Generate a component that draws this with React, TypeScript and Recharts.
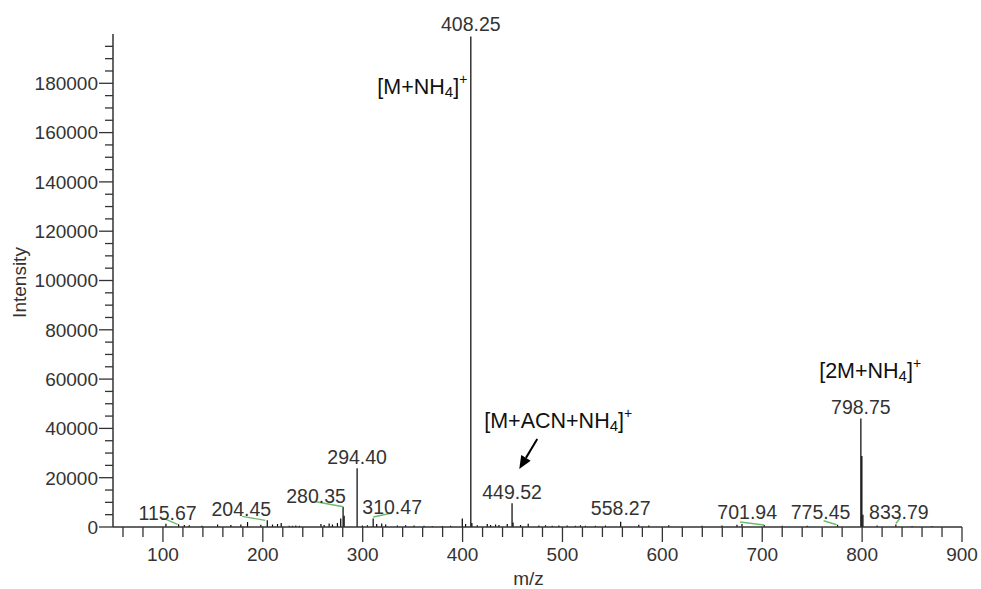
import { ScatterChart, Scatter, XAxis, YAxis, ErrorBar } from 'recharts'

// labelled peaks (m/z, intensity)
const labelMz = [115.67, 204.45, 280.35, 294.4, 310.47, 408.25, 449.52, 558.27, 701.94, 775.45, 798.75, 833.79]
const labelIntensity = [1100, 2700, 8200, 23800, 3400, 199000, 9600, 2100, 800, 900, 44000, 1000]

// unlabelled small peaks along the baseline
const minorMz = [
    103, 121.4, 126.4, 139, 154.7, 168, 178, 184.7, 198, 209.7, 214.7, 218.4, 226.4, 229.7, 233, 236.7,
    258.2, 261.4, 266.4, 269.7, 274.7, 278, 281.4, 299.7, 304.7, 314, 319, 323, 334.7, 343, 351.4, 361.4,
    369.7, 379.7, 388, 399.7, 403, 409.3, 414.7, 424.7, 428, 433, 436.4, 444.7, 450.5, 458, 465.7, 476.4,
    483, 489.7, 496.4, 504.7, 513, 518, 523, 533, 543, 576.4, 586.4, 606.4, 639.7, 659.7, 674.7, 679.7,
    720, 745, 799.75, 800.8, 815, 850, 870,
]
const minorIntensity = [
    1300, 800, 700, 500, 1000, 800, 1000, 2000, 900, 1000, 1200, 1600, 500, 500, 600, 500,
    1200, 800, 1400, 1000, 1600, 3400, 4600, 600, 700, 1200, 1400, 1000, 600, 700, 600, 500,
    400, 400, 500, 3400, 1200, 1600, 700, 1200, 800, 1000, 800, 1200, 1800, 800, 1300, 600,
    700, 500, 600, 600, 500, 700, 500, 500, 600, 900, 600, 700, 500, 600, 900, 1200,
    500, 500, 28800, 5000, 600, 400, 400,
]

const xTicks = [
    60, 80, 100, 120, 140, 160, 180, 200, 220, 240, 260, 280, 300, 320, 340, 360, 380, 400, 420, 440,
    460, 480, 500, 520, 540, 560, 580, 600, 620, 640, 660, 680, 700, 720, 740, 760, 780, 800, 820, 840,
    860, 880, 900,
]
const yTicks = [
    0, 5000, 10000, 15000, 20000, 25000, 30000, 35000, 40000, 45000, 50000, 55000, 60000, 65000, 70000,
    75000, 80000, 85000, 90000, 95000, 100000, 105000, 110000, 115000, 120000, 125000, 130000, 135000,
    140000, 145000, 150000, 155000, 160000, 165000, 170000, 175000, 180000, 185000, 190000, 195000,
]

// ion annotations
const ionMz = [408.25, 449.52, 798.75]
const ionPre = ['[M+NH', '[M+ACN+NH', '[2M+NH']
const ionSub = ['4', '4', '4']
const ionPost = [']', ']', ']']
const ionSup = ['+', '+', '+']

// label placement relative to the peak top (pixels)
const labelLayout: { [key: string]: { dx: number; dy: number; leader?: number[] } } = {
    '115.67': { dx: -11, dy: -11.5, leader: [-16, -6.5, -1, 0] },
    '204.45': { dx: -26, dy: -11, leader: [-25, -4, -2, 0] },
    '280.35': { dx: -27, dy: -11, leader: [-27, -5, 0, 0] },
    '294.40': { dx: 0, dy: -11 },
    '310.47': { dx: 19, dy: -11.6, leader: [0, -1.6, 19, -5.6] },
    '408.25': { dx: 0, dy: -12 },
    '449.52': { dx: 0, dy: -11 },
    '558.27': { dx: 0, dy: -14 },
    '701.94': { dx: -17, dy: -13, leader: [-24, -3, 0, 0] },
    '775.45': { dx: -17, dy: -13, leader: [-14, -4, -1, 0] },
    '798.75': { dx: 0, dy: -11 },
    '833.79': { dx: 3, dy: -12.5, leader: [0, -1, 4, -6] },
}
const ionLayout: { [key: string]: { dx: number; dy: number; anchor: 'start' | 'end'; arrow?: number[] } } = {
    '408.25': { dx: -3.5, dy: 58, anchor: 'end' },
    '449.52': { dx: -27.8, dy: -75.6, anchor: 'start', arrow: [25.2, -64.3, 7.2, -34.3] },
    '798.75': { dx: -41.7, dy: -41, anchor: 'start' },
}

const FONT = '"Liberation Sans", Arial, sans-serif'
const textColor = '#333'
const axisColor = '#333'
const leaderColor = '#6dbb6d'

const stickData = [
    ...minorMz.map((mz, i) => ({ mz, intensity: minorIntensity[i], err: [minorIntensity[i], 0] })),
    ...labelMz.map((mz, i) => ({ mz, intensity: labelIntensity[i], err: [labelIntensity[i], 0] })),
]
const labelData = labelMz.map((mz, i) => ({ mz, intensity: labelIntensity[i] }))

const YTick = ({ x, y, payload }: any) => {
    const v = payload.value
    const major = v % 20000 === 0
    return (
        <g>
            <line x1={x - (major ? 14 : 8)} x2={x} y1={y} y2={y} stroke={axisColor} strokeWidth={1.3} />
            {major && (
                <text x={x - 15} y={y} dy="0.36em" textAnchor="end" fontSize={19} fill={textColor} fontFamily={FONT}>
                    {v}
                </text>
            )}
        </g>
    )
}

const XTick = ({ x, y, payload }: any) => {
    const v = payload.value
    const major = v % 100 === 0
    return (
        <g>
            <line x1={x} x2={x} y1={y} y2={y + (major ? 15 : 10)} stroke={axisColor} strokeWidth={1.3} />
            {major && (
                <text x={x} y={y + 34} textAnchor="middle" fontSize={19} fill={textColor} fontFamily={FONT}>
                    {v}
                </text>
            )}
        </g>
    )
}

const PeakLabel = (props: any) => {
    const { cx, cy, payload } = props
    if (cx == null || cy == null) return <g />
    const key = payload.mz.toFixed(2)
    const lay = labelLayout[key] || { dx: 0, dy: -11 }
    const ionIdx = ionMz.indexOf(payload.mz)
    const ion = ionIdx >= 0 ? ionLayout[key] : null
    let arrowHead = null
    if (ion && ion.arrow) {
        const [x1, y1, x2, y2] = ion.arrow
        const len = Math.hypot(x2 - x1, y2 - y1)
        const ux = (x2 - x1) / len
        const uy = (y2 - y1) / len
        const bx = cx + x2 - ux * 13
        const by = cy + y2 - uy * 13
        arrowHead = (
            <g>
                <line x1={cx + x1} y1={cy + y1} x2={bx} y2={by} stroke="#000" strokeWidth={2} />
                <polygon
                    points={`${cx + x2},${cy + y2} ${bx - uy * 5.5},${by + ux * 5.5} ${bx + uy * 5.5},${by - ux * 5.5}`}
                    fill="#000"
                />
            </g>
        )
    }
    return (
        <g>
            {lay.leader && (
                <line
                    x1={cx + lay.leader[0]}
                    y1={cy + lay.leader[1]}
                    x2={cx + lay.leader[2]}
                    y2={cy + lay.leader[3]}
                    stroke={leaderColor}
                    strokeWidth={1.4}
                />
            )}
            <text
                x={cx + lay.dx}
                y={cy + lay.dy + 6.8}
                textAnchor="middle"
                fontSize={19.5}
                fill={textColor}
                fontFamily={FONT}
            >
                {key}
            </text>
            {ion && (
                <text x={cx + ion.dx} y={cy + ion.dy} textAnchor={ion.anchor} fontSize={21.5} fill="#111" fontFamily={FONT}>
                    {ionPre[ionIdx]}
                    <tspan fontSize={15} dy={3}>
                        {ionSub[ionIdx]}
                    </tspan>
                    <tspan dy={-3}>{ionPost[ionIdx]}</tspan>
                    <tspan fontSize={14} dy={-10}>
                        {ionSup[ionIdx]}
                    </tspan>
                </text>
            )}
            {arrowHead}
        </g>
    )
}

const App = () => {
    return (
        <div style={{ position: 'fixed', left: 0, top: 0, width: 981, height: 589, background: '#fff' }}>
            <ScatterChart width={981} height={589} margin={{ top: 34, right: 19, left: 0, bottom: 0 }}>
                <XAxis
                    type="number"
                    dataKey="mz"
                    domain={[50, 900]}
                    ticks={xTicks}
                    interval={0}
                    tickSize={0}
                    tickMargin={0}
                    tickLine={false}
                    tick={<XTick />}
                    height={62}
                    axisLine={{ stroke: axisColor, strokeWidth: 1.5 }}
                    label={{
                        content: ({ viewBox }: any) => (
                            <text
                                x={viewBox.x + viewBox.width / 2 - 9}
                                y={viewBox.y + 58}
                                textAnchor="middle"
                                fontSize={19}
                                fill={textColor}
                                fontFamily={FONT}
                            >
                                m/z
                            </text>
                        ),
                    }}
                />
                <YAxis
                    type="number"
                    dataKey="intensity"
                    domain={[0, 200000]}
                    ticks={yTicks}
                    interval={0}
                    tickSize={0}
                    tickMargin={0}
                    tickLine={false}
                    tick={<YTick />}
                    width={113}
                    axisLine={{ stroke: axisColor, strokeWidth: 1.5 }}
                    label={{
                        content: ({ viewBox }: any) => {
                            const lx = viewBox.x + 26
                            const ly = viewBox.y + viewBox.height / 2 + 2
                            return (
                                <text
                                    x={lx}
                                    y={ly}
                                    transform={`rotate(-90 ${lx} ${ly})`}
                                    textAnchor="middle"
                                    fontSize={19}
                                    fill={textColor}
                                    fontFamily={FONT}
                                >
                                    Intensity
                                </text>
                            )
                        },
                    }}
                />
                <Scatter data={stickData} isAnimationActive={false} shape={() => <g />}>
                    <ErrorBar
                        dataKey="err"
                        direction="y"
                        width={0}
                        stroke="#000"
                        strokeWidth={1.2}
                        isAnimationActive={false}
                    />
                </Scatter>
                <Scatter data={labelData} isAnimationActive={false} shape={<PeakLabel />} />
            </ScatterChart>
        </div>
    )
}

export default App
